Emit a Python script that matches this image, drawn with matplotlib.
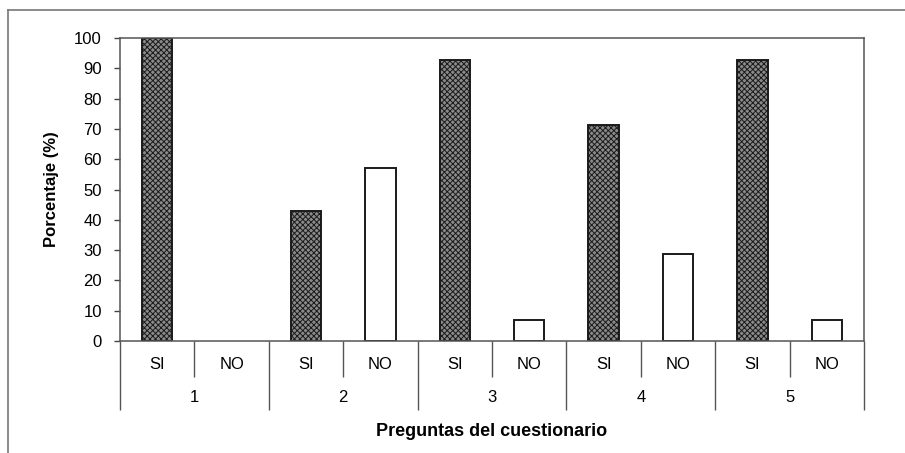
import numpy as np
import matplotlib
matplotlib.use("Agg")
import matplotlib.pyplot as plt
from matplotlib.lines import Line2D
import matplotlib.transforms as mtransforms

plt.rcParams['font.family'] = ['Liberation Sans', 'DejaVu Sans']
plt.rcParams['hatch.linewidth'] = 0.7

preguntas = ['1', '2', '3', '4', '5']
respuestas = ['SI', 'NO']
si_values = [100, 42.9, 92.9, 71.4, 92.9]
no_values = [0, 57.1, 7.1, 28.6, 7.1]
yticks = list(range(0, 101, 10))

fig = plt.figure(figsize=(9.05, 4.53), dpi=100)
ax = fig.add_axes([0.1326, 0.2472, 0.8221, 0.6689])

# outer frame of the picture (top and left only)
fig.add_artist(Line2D([0.0088, 1.0], [0.978, 0.978], color='#777777', lw=1.2))
fig.add_artist(Line2D([0.0088, 0.0088], [0.0, 0.978], color='#777777', lw=1.2))

n = len(preguntas)
x_si = np.arange(n) * 2
x_no = x_si + 1
w = 0.41
ax.bar(x_si, si_values, width=w, facecolor='#8a8a8a', edgecolor='#1a1a1a',
       hatch='xxxxxx', linewidth=1.4)
no_lw = [1.4 if v > 0 else 0 for v in no_values]
ax.bar(x_no, no_values, width=w, facecolor='white', edgecolor='#1a1a1a',
       linewidth=no_lw)

ax.set_xlim(-0.5, 2 * n - 0.5)
ax.set_ylim(0, 100)
ax.set_yticks(yticks)
ax.tick_params(axis='y', direction='out', length=4, width=1, color='#444444',
               labelsize=12, pad=9)
for s in ax.spines.values():
    s.set_color('#555555')
    s.set_linewidth(1.1)

# x axis: boundaries of slots and groups
ax.set_xticks(np.arange(-0.5, 2 * n, 2))
ax.set_xticks(np.arange(0.5, 2 * n, 2), minor=True)
ax.tick_params(axis='x', which='major', direction='out', length=50, width=1,
               color='#555555', labelbottom=False)
ax.tick_params(axis='x', which='minor', direction='out', length=26, width=1,
               color='#555555', labelbottom=False)

trans = mtransforms.blended_transform_factory(ax.transData, ax.transAxes)
for i in range(n):
    for j, r in enumerate(respuestas):
        ax.text(2 * i + j, -0.079, r, transform=trans, ha='center', va='center',
                fontsize=12)
    ax.text(2 * i + 0.5, -0.188, preguntas[i], transform=trans, ha='center',
            va='center', fontsize=12)

ax.text(0.5, -0.297, 'Preguntas del cuestionario', transform=ax.transAxes,
        ha='center', va='center', fontsize=13, fontweight='bold')
ax.set_ylabel('Porcentaje (%)', fontsize=12, fontweight='bold', labelpad=11)

fig.savefig('out.png', dpi=100)
